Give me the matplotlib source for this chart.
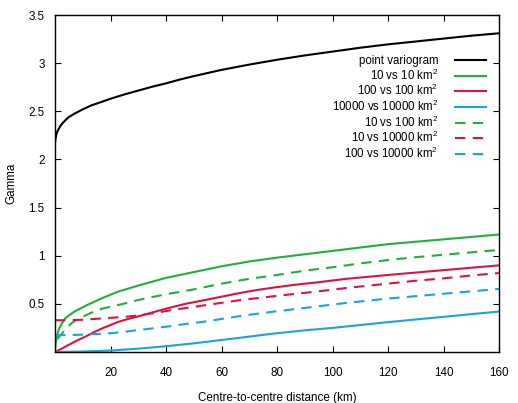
import matplotlib
matplotlib.use("Agg")
import matplotlib.pyplot as plt

plt.rcParams["font.family"] = ["Liberation Sans", "DejaVu Sans"]
plt.rcParams["font.size"] = 8.4
plt.rcParams["mathtext.fontset"] = "custom"
plt.rcParams["mathtext.rm"] = "Liberation Sans"
plt.rcParams["mathtext.it"] = "Liberation Sans"

# distance (km) / gamma
point_x = [0, 0.2, 0.5, 1, 2, 3, 4, 5, 7, 10, 13, 16, 20, 25, 30, 35, 40, 45, 50, 60, 70, 80, 90, 100,
           110, 120, 130, 140, 150, 160]
point_y = [2.17, 2.22, 2.26, 2.30, 2.35, 2.385, 2.415, 2.44, 2.475, 2.52, 2.56, 2.59, 2.63, 2.675, 2.715,
           2.755, 2.79, 2.83, 2.865, 2.93, 2.985, 3.035, 3.08, 3.12, 3.16, 3.195, 3.225, 3.255, 3.285, 3.31]

g10_10_x = [0, 0.2, 0.4, 0.8, 1.3, 2, 2.5, 3.7, 5, 7, 9, 11, 14, 17, 20, 23, 26, 30, 35, 40, 45, 50, 55,
            60, 70, 80, 90, 100, 110, 120, 130, 140, 150, 160]
g10_10_y = [0.0, 0.08, 0.12, 0.18, 0.23, 0.27, 0.30, 0.35, 0.38, 0.42, 0.45, 0.48, 0.52, 0.56, 0.595,
            0.63, 0.655, 0.69, 0.73, 0.77, 0.80, 0.83, 0.86, 0.89, 0.94, 0.98, 1.015, 1.05, 1.085, 1.12,
            1.145, 1.17, 1.195, 1.22]

g100_100_x = [0, 2.5, 4, 6, 8, 11, 14, 17, 20, 23, 26, 30, 35, 40, 47, 55, 61, 67, 73, 79, 87, 95, 105,
              120, 130, 140, 150, 160]
g100_100_y = [0.0, 0.035, 0.06, 0.09, 0.12, 0.16, 0.205, 0.245, 0.28, 0.315, 0.34, 0.37, 0.41, 0.45,
              0.50, 0.545, 0.58, 0.615, 0.645, 0.67, 0.70, 0.725, 0.76, 0.80, 0.825, 0.85, 0.875, 0.90]

g1e4_1e4_x = [0, 10, 15, 20, 25, 30, 35, 40, 45, 50, 55, 60, 65, 70, 75, 80, 90, 100, 110, 120, 130,
              140, 150, 160]
g1e4_1e4_y = [0.0, 0.005, 0.01, 0.015, 0.025, 0.035, 0.047, 0.06, 0.075, 0.09, 0.107, 0.125, 0.142,
              0.16, 0.178, 0.195, 0.225, 0.25, 0.28, 0.31, 0.338, 0.365, 0.393, 0.42]

g10_100_x = [0.7, 1.5, 2.5, 4, 6, 8, 11, 14, 17, 20, 23, 26, 30, 35, 40, 45, 50, 55, 60, 65, 70, 80, 90,
             100, 110, 120, 130, 140, 150, 160]
g10_100_y = [0.135, 0.16, 0.19, 0.245, 0.30, 0.34, 0.38, 0.42, 0.45, 0.47, 0.49, 0.51, 0.54, 0.57, 0.60,
             0.625, 0.65, 0.68, 0.71, 0.735, 0.76, 0.80, 0.845, 0.88, 0.92, 0.955, 0.985, 1.01, 1.035, 1.06]

g10_1e4_x = [0, 5, 10, 15, 20, 25, 30, 36, 42, 48, 55, 61, 67, 73, 79, 87, 95, 105, 120, 130, 140, 150,
             160]
g10_1e4_y = [0.33, 0.33, 0.335, 0.345, 0.355, 0.365, 0.38, 0.405, 0.435, 0.46, 0.49, 0.515, 0.54, 0.56,
             0.58, 0.605, 0.63, 0.665, 0.71, 0.74, 0.765, 0.795, 0.82]

g100_1e4_x = [0, 5, 10, 15, 20, 25, 30, 36, 42, 48, 55, 61, 67, 73, 79, 87, 95, 105, 120, 130, 140, 150,
              160]
g100_1e4_y = [0.175, 0.176, 0.18, 0.187, 0.195, 0.21, 0.228, 0.248, 0.27, 0.295, 0.32, 0.348, 0.375,
              0.398, 0.42, 0.447, 0.475, 0.51, 0.555, 0.58, 0.605, 0.63, 0.655]

x_ticks = [20, 40, 60, 80, 100, 120, 140, 160]
y_ticks = [0.5, 1, 1.5, 2, 2.5, 3, 3.5]
y_tick_labels = ["0.5", "1", "1.5", "2", "2.5", "3", "3.5"]

green = "#1fae3f"
red = "#d9153f"
blue = "#17a5dc"
dash = (5, 3.5)

fig = plt.figure(figsize=(5.18, 4.03), dpi=100)
ax = fig.add_axes([55 / 518, 51 / 403, 444 / 518, 337 / 403])

lw = 1.5
ax.plot(point_x, point_y, color="black", lw=lw, label="point variogram")
ax.plot(g10_10_x, g10_10_y, color=green, lw=lw, label="10 vs 10 km$^2$")
ax.plot(g100_100_x, g100_100_y, color=red, lw=lw, label="100 vs 100 km$^2$")
ax.plot(g1e4_1e4_x, g1e4_1e4_y, color=blue, lw=lw, label="10000 vs 10000 km$^2$")
ax.plot(g10_100_x, g10_100_y, color=green, lw=lw, dashes=dash, label="10 vs 100 km$^2$")
ax.plot(g10_1e4_x, g10_1e4_y, color=red, lw=lw, dashes=dash, label="10 vs 10000 km$^2$")
ax.plot(g100_1e4_x, g100_1e4_y, color=blue, lw=lw, dashes=dash, label="100 vs 10000 km$^2$")

ax.set_xlim(0, 160)
ax.set_ylim(0, 3.5)
ax.set_xticks(x_ticks)
ax.set_yticks(y_ticks)
ax.set_yticklabels(y_tick_labels)
ax.tick_params(direction="in", top=True, right=True, length=4, width=0.8, labelsize=8.4)
ax.tick_params(axis="x", pad=10.5)
ax.tick_params(axis="y", pad=7.5)
for s in ax.spines.values():
    s.set_linewidth(1.0)

ax.set_xlabel("Centre-to-centre distance (km)", fontsize=8.4, labelpad=10)
ax.set_ylabel("Gamma", fontsize=8.4, labelpad=8)

ax.legend(loc="upper right", bbox_to_anchor=(486 / 518, 1 - 55 / 403), bbox_transform=fig.transFigure,
          frameon=False, markerfirst=False, alignment="right", handlelength=2.7, handletextpad=1.45,
          labelspacing=0.04, borderpad=0, borderaxespad=0, fontsize=8.3)

fig.savefig("out.png", dpi=100)
